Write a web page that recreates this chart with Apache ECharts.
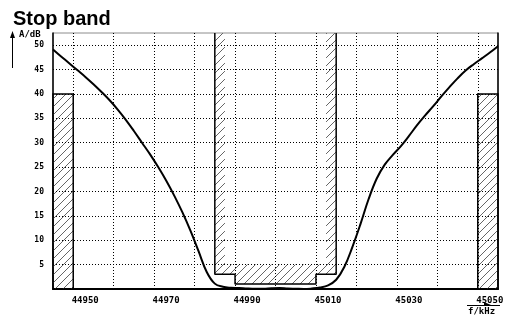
<!DOCTYPE html>
<html><head><meta charset="utf-8">
<script src="https://cdn.jsdelivr.net/npm/echarts@6/dist/echarts.min.js"></script>
<style>html,body{margin:0;padding:0;background:#fff}#c{width:515px;height:326px}</style>
</head><body><div id="c"></div>
<script>
const chartTitle = 'Stop band';
const yAxisName = 'A/dB';
const xAxisName = 'f/kHz';
// measured stop-band curve, sampled every 2 kHz
const freqKHz = [44945,44947,44949,44951,44953,44955,44957,44959,44961,44963,44965,44967,44969,44971,44973,44975,44977,44979,44981,44983,44985,44987,44989,44991,44993,44995,44997,44999,45001,45003,45005,45007,45009,45011,45013,45015,45017,45019,45021,45023,45025,45027,45029,45031,45033,45035,45037,45039,45041,45043,45045,45047,45049,45051,45053,45055];
const attenDb = [49.1,47.7,46.3,44.9,43.5,42.0,40.4,38.7,36.8,34.7,32.4,30.0,27.6,25.0,22.2,19.1,15.7,11.9,7.7,3.5,1.1,0.45,0.25,0.2,0.1,0.05,0.05,0.15,0.2,0.1,0.05,0.0,0.1,0.3,0.75,1.9,4.5,8.6,13.3,18.4,22.6,25.5,27.5,29.3,31.4,33.6,35.6,37.5,39.5,41.4,43.2,44.8,46.1,47.3,48.5,49.8];
// pass-band tolerance mask (outer line)
const maskF = [44985,44985,44990,44990,45010,45010,45015,45015];
const maskA = [52.5,3,3,1,1,3,3,52.5];
// inner edge of the hatched tolerance band
const innerF = [44987.5,44987.5,45012.5,45012.5];
const innerA = [52.5,5,5,52.5];
// stop-band requirement blocks
const stopBlockF = [[44945,44950],[45050,45055]];
const stopBlockA = [40,40];
// axes
const xMin = 44945, xMax = 45055;
const yMin = 0, yMax = 52.5;
const xGrid = [44950,44960,44970,44980,44990,45000,45010,45020,45030,45040,45050];
const xLabels = [44950,44970,44990,45010,45030,45050];
const yGrid = [5,10,15,20,25,30,35,40,45,50];
const yLabels = [5,10,15,20,25,30,35,40,45,50];

function makeHatch(){
  const c = document.createElement('canvas');
  c.width = 8; c.height = 8;
  const g = c.getContext('2d');
  g.strokeStyle = '#666'; g.lineWidth = 1;
  g.beginPath(); g.moveTo(0,8); g.lineTo(8,0); g.stroke();
  return c;
}
const hatchImg = makeHatch();

const bandPoly = maskF.map((f,i)=>[f,maskA[i]]).concat(innerF.map((f,i)=>[f,innerA[i]]).reverse());
const blockPolys = stopBlockF.map(([a,b],i)=>[[a,0],[a,stopBlockA[i]],[b,stopBlockA[i]],[b,0]]);
const polys = [bandPoly].concat(blockPolys);

const chart = echarts.init(document.getElementById('c'));
const mono = 'DejaVu Sans Mono';
chart.setOption({
  animation: false,
  backgroundColor: '#fff',
  title: { text: chartTitle, left: 8, top: 4, textStyle: { fontFamily: 'Liberation Sans', fontWeight: 'bold', fontSize: 20, color: '#000' } },
  grid: { left: 53, right: 17, top: 33, bottom: 37, show: true, borderColor: '#8c8c8c', borderWidth: 1 },
  xAxis: {
    type: 'value', min: xMin, max: xMax, interval: 5,
    axisLine: { show: true, onZero: false, lineStyle: { color: '#000', width: 2 } },
    axisTick: { show: false }, splitLine: { show: false },
    axisLabel: {
      margin: 7, padding: [0,0,0,24], fontFamily: mono, fontWeight: 'bold', fontSize: 9, color: '#000',
      showMinLabel: true, showMaxLabel: true,
      formatter: v => xLabels.indexOf(Math.round(v)) >= 0 ? String(Math.round(v)) : ''
    }
  },
  yAxis: [{
    type: 'value', min: yMin, max: yMax, interval: 5,
    axisLine: { show: true, onZero: false, lineStyle: { color: '#000', width: 1.5 } },
    axisTick: { show: false }, splitLine: { show: false },
    axisLabel: { margin: 9, fontFamily: mono, fontWeight: 'bold', fontSize: 8, color: '#000',
      formatter: v => yLabels.indexOf(v) >= 0 ? String(v) : '' }
  },{
    type: 'value', min: yMin, max: yMax, interval: 5, position: 'right',
    axisLine: { show: true, lineStyle: { color: '#000', width: 1.5 } },
    axisTick: { show: false }, splitLine: { show: false }, axisLabel: { show: false }
  }],
  series: [
    {
      type: 'custom', z: 2, silent: true,
      data: polys.map((p,i)=>[p[0][0], p[0][1], i]),
      renderItem: (params, api) => {
        const idx = params.dataIndex;
        const pts = polys[idx].map(p => api.coord(p));
        return { type: 'polygon', shape: { points: pts },
          style: { fill: { type: 'pattern', image: hatchImg, repeat: 'repeat' },
                   stroke: idx === 0 ? null : '#000', lineWidth: 1.5 } };
      }
    },
    {
      type: 'line', z: 3, silent: true, symbol: 'none',
      data: maskF.map((f,i)=>[f,maskA[i]]),
      lineStyle: { color: '#000', width: 1.5 }
    },
    {
      type: 'line', z: 4, silent: true, symbol: 'none', smooth: 0.4,
      data: freqKHz.map((f,i)=>[f,attenDb[i]]),
      lineStyle: { color: '#000', width: 2 },
      markLine: {
        silent: true, symbol: 'none', label: { show: false }, animation: false,
        lineStyle: { type: [1,2], color: '#000', width: 1 },
        data: xGrid.map(v=>({ xAxis: v })).concat(yGrid.map(v=>({ yAxis: v })))
      }
    }
  ],
  graphic: [
    { type: 'line', shape: { x1: 12.5, y1: 36, x2: 12.5, y2: 68 }, style: { stroke: '#000', lineWidth: 1 } },
    { type: 'polygon', shape: { points: [[12.5,31],[10,38],[15,38]] }, style: { fill: '#000' } },
    { type: 'text', left: 19, top: 30, style: { text: yAxisName, fontFamily: mono, fontWeight: 'bold', fontSize: 9, fill: '#000' } },
    { type: 'line', shape: { x1: 467, y1: 305.5, x2: 500, y2: 305.5 }, style: { stroke: '#000', lineWidth: 1 } },
    { type: 'polygon', shape: { points: [[484,302],[484,305],[491,305]] }, style: { fill: '#000' } },
    { type: 'text', left: 468, top: 307, style: { text: xAxisName, fontFamily: mono, fontWeight: 'bold', fontSize: 9, fill: '#000' } }
  ]
});
</script>
</body></html>
